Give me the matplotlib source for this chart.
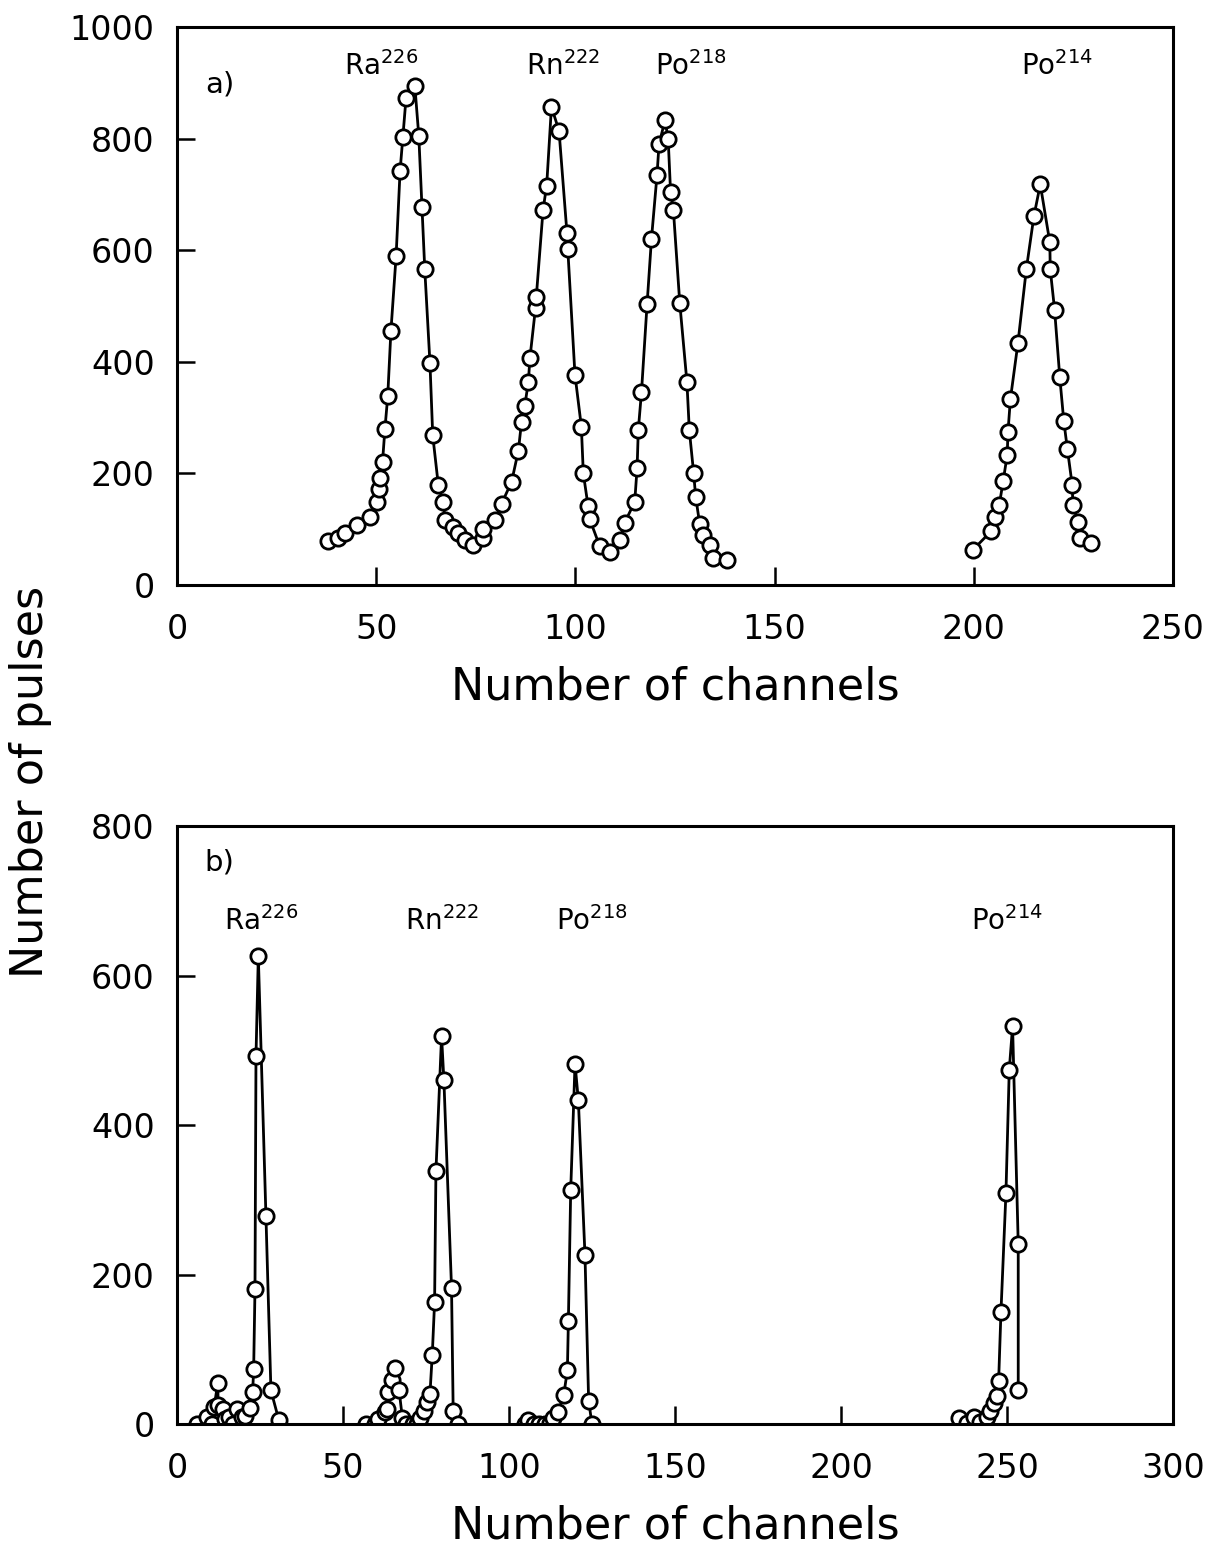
import numpy as np
import matplotlib.pyplot as plt

plt.rcParams['font.family'] = ['DejaVu Sans']

# panel a) spectrum
ch_a = [38.0, 40.5, 42.2, 45.1, 48.4, 50.1, 50.6, 50.9, 51.6, 52.2, 52.9, 53.7,
        55.0, 56.0, 56.7, 57.5, 59.7, 60.7, 61.5, 62.2, 63.5, 64.2, 65.6, 66.8,
        67.3, 69.3, 70.6, 72.3, 74.4, 76.7, 76.9, 79.8, 81.5, 84.0, 85.7, 86.5,
        87.3, 88.2, 88.6, 90.0, 90.2, 91.9, 92.8, 94.0, 95.9, 97.9, 98.1, 99.9,
        101.5, 102.0, 103.2, 103.6, 106.1, 108.8, 111.2, 112.4, 114.9, 115.5,
        115.8, 116.6, 118.0, 119.1, 120.5, 121.0, 122.5, 123.3, 123.9, 124.6,
        126.2, 128.0, 128.6, 129.7, 130.2, 131.2, 132.1, 133.9, 134.6, 138.1]
cnt_a = [78, 84, 93, 108, 122, 149, 172, 191, 221, 280, 338, 455,
         589, 742, 803, 873, 895, 805, 677, 566, 398, 268, 179, 149,
         116, 104, 93, 81, 72, 84, 101, 116, 146, 185, 241, 293,
         321, 364, 407, 497, 517, 673, 716, 857, 814, 630, 602, 377,
         284, 200, 141, 118, 70, 60, 81, 112, 149, 210,
         278, 346, 503, 620, 735, 790, 833, 799, 704, 673,
         506, 364, 278, 200, 158, 110, 90, 72, 48, 45]

ch_a2 = [199.8, 204.3, 205.3, 206.4, 207.4, 208.4, 208.6, 209.2, 211.1, 213.2,
         215.1, 216.7, 219.1, 219.2, 220.3, 221.6, 222.6, 223.5, 224.7, 224.9,
         226.2, 226.6, 229.5]
cnt_a2 = [63, 96, 122, 143, 187, 233, 275, 333, 434, 566,
          661, 718, 614, 566, 493, 372, 294, 244, 180, 143,
          113, 85, 75]

# panel b) spectrum
ch_b1 = [5.9, 8.9, 10.4, 11.2, 12.3, 12.4, 14.0, 14.5, 15.7, 17.0, 18.0, 19.5,
         20.5, 22.0, 22.8, 23.1, 23.5, 23.8, 24.5, 26.8, 28.3, 30.7]
cnt_b1 = [0, 10, 0, 23, 55, 25, 20, 7, 10, 0, 20, 10,
          11, 22, 43, 74, 181, 492, 626, 278, 45, 5]

ch_b2 = [56.8, 59.6, 60.6, 62.6, 63.4, 63.6, 64.8, 65.7, 66.9, 67.9, 68.9, 71.2,
         72.2, 73.2, 74.5, 75.2, 76.2, 76.9, 77.6, 78.0, 79.7, 80.4, 82.7, 83.2,
         84.7]
cnt_b2 = [0, 0, 7, 16, 20, 43, 59, 75, 45, 8, 0, 0,
          0, 8, 18, 29, 40, 93, 163, 338, 519, 460, 182, 17,
          0]

ch_b3 = [104.8, 105.8, 107.5, 109.1, 110.8, 112.3, 113.3, 114.8, 116.5, 117.6,
         117.9, 118.6, 119.9, 120.9, 122.9, 124.0, 125.0]
cnt_b3 = [0, 5, 0, 0, 0, 2, 8, 16, 39, 72,
          138, 313, 482, 433, 226, 31, 0]

ch_b4 = [235.5, 238.0, 240.0, 242.0, 244.0, 245.0, 246.0, 247.0, 247.5, 248.2,
         249.7, 250.7, 251.7, 253.4, 253.4]
cnt_b4 = [8, 2, 10, 3, 10, 18, 28, 38, 58, 150,
          309, 474, 532, 241, 45]

labels_a = [(51.2, 'Ra', '226'), (97, 'Rn', '222'), (129, 'Po', '218'), (221, 'Po', '214')]
labels_b = [(25.3, 'Ra', '226'), (79.8, 'Rn', '222'), (125, 'Po', '218'), (250, 'Po', '214')]

fig = plt.figure(figsize=(12.18, 15.46), dpi=100)
ax1 = fig.add_axes([0.1453, 0.6216, 0.8177, 0.3609])
ax2 = fig.add_axes([0.1453, 0.0789, 0.8177, 0.3868])

style = dict(color='black', lw=2, marker='o', ms=11, mfc='white',
             mec='black', mew=2)

ax1.plot(ch_a, cnt_a, **style)
ax1.plot(ch_a2, cnt_a2, **style)
for x, y in [(ch_b1, cnt_b1), (ch_b2, cnt_b2), (ch_b3, cnt_b3), (ch_b4, cnt_b4)]:
    ax2.plot(x, y, **style)

ax1.set_xlim(0, 250)
ax1.set_ylim(0, 1000)
ax1.set_xticks(np.arange(0, 251, 50))
ax1.set_yticks(np.arange(0, 1001, 200))
ax2.set_xlim(0, 300)
ax2.set_ylim(0, 800)
ax2.set_xticks(np.arange(0, 301, 50))
ax2.set_yticks(np.arange(0, 801, 200))

for ax in (ax1, ax2):
    for s in ax.spines.values():
        s.set_linewidth(2.2)
    ax.tick_params(direction='in', length=13, width=1.8, labelsize=24, pad=20)
    ax.tick_params(axis='y', pad=16)
    ax.set_xlabel('Number of channels', fontsize=32, labelpad=14)

for x, el, mass in labels_a:
    ax1.text(x, 914, el + '$^{' + mass + '}$', fontsize=20, ha='center', va='baseline')
for x, el, mass in labels_b:
    ax2.text(x, 661, el + '$^{' + mass + '}$', fontsize=20, ha='center', va='baseline')
ax1.text(7.0, 883, 'a)', fontsize=21, ha='left', va='baseline')
ax2.text(8.4, 741, 'b)', fontsize=21, ha='left', va='baseline')

fig.text(0.025, 0.494, 'Number of pulses', rotation=90, fontsize=32,
         ha='center', va='center')

plt.savefig('out.png', dpi=100)
